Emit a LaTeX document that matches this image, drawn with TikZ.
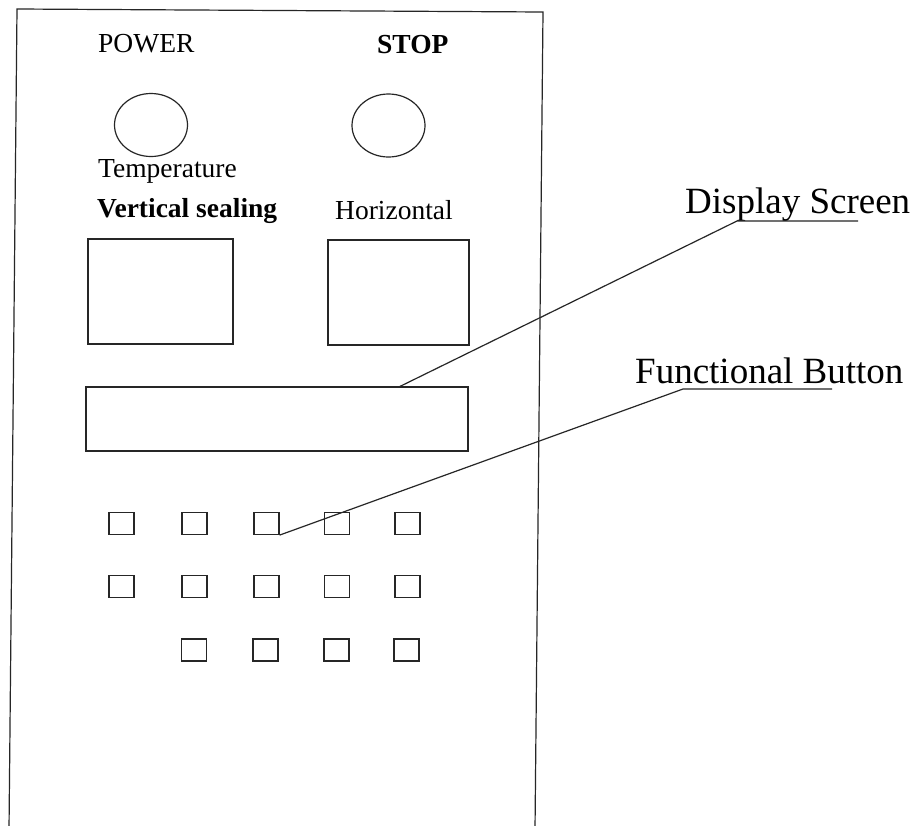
\documentclass[tikz,border=0pt]{standalone}
\usepackage{fontspec}
\setmainfont{Liberation Serif}
\usetikzlibrary{shapes.geometric}
\begin{document}
\begin{tikzpicture}[x=1pt,y=-1pt,
  ln/.style={line width=1.2pt, draw=black!85},
  lbl/.style={anchor=base west, inner sep=0pt, font=\fontsize{27.5}{30}\selectfont},
  biglbl/.style={anchor=base west, inner sep=0pt, font=\fontsize{37}{40}\selectfont},
  knob/.style={ln, ellipse, inner sep=0pt, minimum width=73pt, minimum height=63pt},
  box/.style={ln, rectangle, inner sep=0pt},
  btn/.style={ln, rectangle, inner sep=0pt, minimum width=25pt, minimum height=22pt}]
\useasboundingbox (0,0) rectangle (921,825);
\fill[white] (0,0) rectangle (921,825);
% panel outline (open at the bottom)
\draw[ln] (9,830) -- (17,9) -- (543,12) -- (535,830);
% texts
\node[lbl] (power) at (98,52) {POWER};
\node[lbl] (stop) at (377,53) {\bfseries STOP};
\node[lbl] (temp) at (98,177) {Temperature};
\node[lbl] (vert) at (97,217) {\bfseries Vertical sealing};
\node[lbl] (horiz) at (335,219) {Horizontal};
% knobs
\node[knob] (k1) at (151,125) {};
\node[knob] (k2) at (388.5,125.5) {};
% temperature windows
\node[box, minimum width=145pt, minimum height=105pt] (w1) at (160.5,291.5) {};
\node[box, minimum width=141pt, minimum height=105pt] (w2) at (398.5,292.5) {};
% display
\node[box, minimum width=382pt, minimum height=64pt] (disp) at (277,419) {};
% buttons
\foreach \c/\x in {1/121.5,2/194.5,3/266.5,4/337,5/407.5}{
  \node[btn] (b1\c) at (\x,523.5) {};
  \node[btn] (b2\c) at (\x,586.5) {};
}
\foreach \c/\x in {2/194,3/265.5,4/336.5,5/406.5}{
  \node[btn] (b3\c) at (\x,650) {};
}
% callout labels
\node[biglbl] (dslbl) at (685,213) {Display Screen};
\node[biglbl] (fblbl) at (635,383) {Functional Button};
\coordinate (dsA) at (400,387);
\coordinate (dsB) at (737,221);
\coordinate (dsC) at (858,221);
\coordinate (fbB) at (683,389);
\coordinate (fbC) at (832,389);
\draw[ln] (disp.north -| dsA) -- (dsB) -- (dsC);
\draw[ln] (b13.south east) -- (fbB) -- (fbC);
\end{tikzpicture}
\end{document}
